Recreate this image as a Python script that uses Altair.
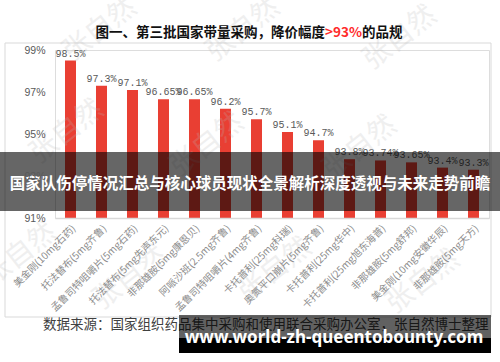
import altair as alt
import pandas as pd

# ---- data ----
names = [
    "美金刚(10mg石药)", "托法替布(5mg齐鲁)", "孟鲁司特咀嚼片(5mg石药)", "托法替布(5mg先声东元)",
    "非那雄胺(5mg康恩贝)", "阿哌沙班(2.5mg齐鲁)", "孟鲁司特咀嚼片(4mg齐鲁)", "卡托普利(25mg科瑞)",
    "奥氮平口崩片(5mg齐鲁)", "卡托普利(25mg华中)", "卡托普利(25mg旭东海普)", "非那雄胺(5mg舒邦)",
    "美金刚(10mg安徽华辰)", "非那雄胺(5mg天方)",
]
values = [98.5, 97.3, 97.1, 96.65, 96.65, 96.2, 95.7, 95.1, 94.7, 93.8, 93.74, 93.65, 93.4, 93.3]
value_labels = ["98.5%", "97.3%", "97.1%", "96.65%", "96.65%", "96.2%", "95.7%",
                "95.1%", "94.7%", "93.8%", "93.74%", "93.65%", "93.4%", "93.3%"]
y_ticks = [91, 93, 95, 97, 99]

title_left = "图一、第三批国家带量采购，降价幅度"
title_red = ">93%"
title_right = "的品规"
source_text = "数据来源：国家组织药品集中采购和使用联合采购办公室，张自然博士整理"
banner_text = "国家队伤停情况汇总与核心球员现状全景解析深度透视与未来走势前瞻"
url_text = "www.world-zh-queentobounty.com"
wm_text = "张自然"

df = pd.DataFrame({"name": names, "value": values, "label": value_labels})

CJK = "Noto Sans CJK SC"
one = alt.Data(values=[{"a": 1}])

x_enc = alt.X("name:N", sort=names,
              scale=alt.Scale(paddingInner=0.645, paddingOuter=0.3225),
              axis=alt.Axis(title=None, labelAngle=-45, labelFont=CJK, labelFontSize=10,
                            labelColor="#8c8c8c", ticks=False, domainColor="#d9d9d9",
                            domainWidth=1.5, labelPadding=5, labelLimit=200, zindex=1))
y_scale = alt.Scale(domain=[91, 99], zero=False, nice=False)

frame = alt.Chart(one).mark_rect(fill="transparent", stroke="#d9d9d9", strokeWidth=1).encode(
    x=alt.value(-50), x2=alt.value(436), y=alt.value(-7), y2=alt.value(267))

bars = alt.Chart(df).mark_bar(color="#e93f33").encode(
    x=x_enc,
    y=alt.Y("value:Q", scale=y_scale,
            axis=alt.Axis(values=y_ticks, title=None, grid=False, domain=False, ticks=False,
                          labelExpr="datum.value + '%'", labelFont="Liberation Sans",
                          labelFontSize=10.5, labelColor="#595959", labelPadding=10,
                          zindex=1)),
    y2=alt.datum(91),
)

labels = alt.Chart(df).mark_text(font="Liberation Mono", fontSize=10, color="#595959",
                                 baseline="bottom", dy=-2).encode(
    x=alt.X("name:N", sort=names), y=alt.Y("value:Q", scale=y_scale), text="label:N")


def txt(text, x, y, **kw):
    return alt.Chart(one).mark_text(text=text, **kw).encode(x=alt.value(x), y=alt.value(y))


def rect(x, x2, y, y2, **kw):
    return alt.Chart(one).mark_rect(**kw).encode(
        x=alt.value(x), x2=alt.value(x2), y=alt.value(y), y2=alt.value(y2))


wm_style = dict(font=CJK, fontSize=28, color="#b8b8b8", opacity=0.22, angle=322,
                align="center", baseline="middle")
watermarks = [
    txt(wm_text, 12, 82, **wm_style),
    txt(wm_text, 152, 95, **wm_style),
    txt(wm_text, 305, 98, **wm_style),
    txt(wm_text, 45, -20, **wm_style),
    txt(wm_text, 188, -20, **wm_style),
    txt(wm_text, 345, -12, **wm_style),
    txt(wm_text, -35, 205, **wm_style),
    txt(wm_text, 75, 228, **wm_style),
    txt(wm_text, 220, 220, **wm_style),
    txt(wm_text, 368, 232, **wm_style),
]

title_style = dict(font=CJK, fontSize=13.5, fontWeight="bold", baseline="middle")
titles = [
    txt(title_left, 270, -17, align="right", color="#111111", **title_style),
    txt(title_red, 288.5, -17, align="center", color="#ff2b2b", **title_style),
    txt(title_right, 307, -17, align="left", color="#111111", **title_style),
]

source = txt(source_text, -12, 275, font=CJK, fontSize=13.5, color="#404040",
             align="left", baseline="middle")

banner = rect(-55, 445, 102, 161, fill="black", opacity=0.6)
banner_t = txt(banner_text, 195, 134, font=CJK, fontSize=15.5, fontWeight="bold",
               color="white", align="center", baseline="middle")

url_bg1 = rect(124, 436, 265, 288, fill="black", opacity=0.62)
url_bg2 = rect(124, 436, 288, 303, fill="black")
url_t = txt(url_text, 279, 288, font="Noto Sans", fontSize=17, fontWeight="bold",
            color="white", align="center", baseline="middle")

chart = alt.layer(
    frame, bars, labels, *watermarks, *titles, source,
    banner, banner_t, url_bg1, url_bg2, url_t,
).properties(
    width=434, height=168,
    padding={"left": 55, "top": 50, "right": 11, "bottom": 144},
    autosize=alt.AutoSizeParams(type="none"),
).configure_view(stroke=None).configure(background="white")

chart.save("out.html", embed_options={"renderer": "svg", "actions": False})
